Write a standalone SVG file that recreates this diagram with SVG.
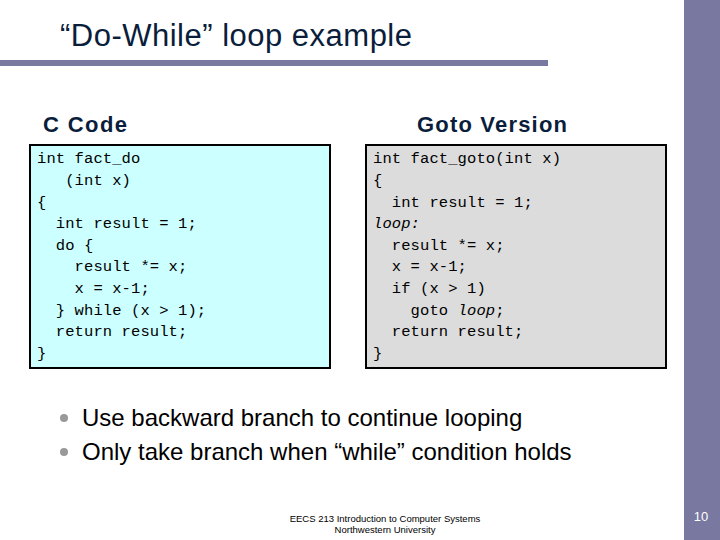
<svg xmlns="http://www.w3.org/2000/svg" width="720" height="540" viewBox="0 0 720 540">
<style>
.code{font-family:"Liberation Mono",monospace;font-size:15.5px;fill:#000;white-space:pre;letter-spacing:0.1px}
.hd{font-family:"Liberation Sans",Arial,sans-serif;font-size:22px;font-weight:bold;fill:#0a1e3c}
.bul{font-family:"Liberation Sans",Arial,sans-serif;font-size:24px;fill:#000}
.ft{font-family:"Liberation Sans",Arial,sans-serif;font-size:9.5px;fill:#000}
</style>
<rect width="720" height="540" fill="#fff"/>
<rect x="684" y="0" width="36" height="540" fill="#7878a0"/>
<rect x="0" y="60" width="548" height="6" fill="#7878a0"/>
<text x="60" y="46" font-family="Liberation Sans,Arial,sans-serif" font-size="31" fill="#0a1e3c" textLength="352">“Do-While” loop example</text>
<text class="hd" x="43" y="132" textLength="84">C Code</text>
<text class="hd" x="417" y="132" textLength="150">Goto Version</text>
<g id="ccode">
<rect x="30" y="145" width="300" height="223" fill="#ccffff" stroke="#000" stroke-width="2"/>
<text class="code" x="37" y="163">int fact_do</text>
<text class="code" x="37" y="185">   (int x)</text>
<text class="code" x="37" y="207">{</text>
<text class="code" x="37" y="228">  int result = 1;</text>
<text class="code" x="37" y="250">  do {</text>
<text class="code" x="37" y="271">    result *= x;</text>
<text class="code" x="37" y="293">    x = x-1;</text>
<text class="code" x="37" y="315">  } while (x &gt; 1);</text>
<text class="code" x="37" y="336">  return result;</text>
<text class="code" x="37" y="358">}</text>
</g>
<g id="gotocode">
<rect x="366" y="145" width="300" height="223" fill="#dcdcdc" stroke="#000" stroke-width="2"/>
<text class="code" x="373" y="163">int fact_goto(int x)</text>
<text class="code" x="373" y="185">{</text>
<text class="code" x="373" y="207">  int result = 1;</text>
<text class="code" x="373" y="228" font-style="italic">loop:</text>
<text class="code" x="373" y="250">  result *= x;</text>
<text class="code" x="373" y="271">  x = x-1;</text>
<text class="code" x="373" y="293">  if (x &gt; 1)</text>
<text class="code" x="373" y="315">    goto <tspan font-style="italic">loop</tspan>;</text>
<text class="code" x="373" y="336">  return result;</text>
<text class="code" x="373" y="358">}</text>
</g>
<circle cx="64" cy="418" r="4" fill="#999"/>
<circle cx="64" cy="452" r="4" fill="#999"/>
<text class="bul" x="82" y="426">Use backward branch to continue looping</text>
<text class="bul" x="82" y="460">Only take branch when “while” condition holds</text>
<text class="ft" x="385" y="522" text-anchor="middle">EECS 213 Introduction to Computer Systems</text>
<text class="ft" x="385" y="533" text-anchor="middle">Northwestern University</text>
<text x="701" y="521" text-anchor="middle" font-family="Liberation Sans,Arial,sans-serif" font-size="13" fill="#fff">10</text>
</svg>
